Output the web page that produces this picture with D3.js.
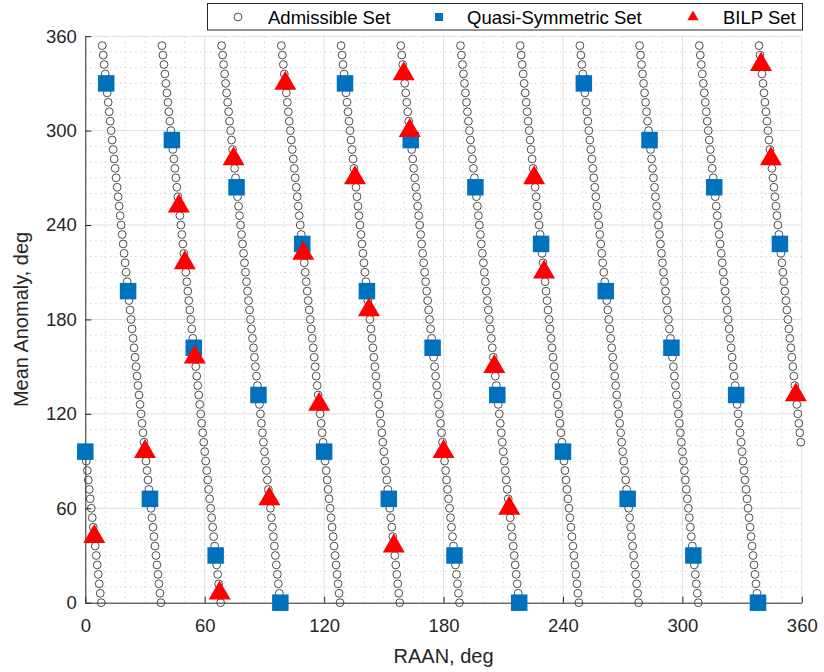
<!DOCTYPE html>
<html>
<head>
<meta charset="utf-8">
<script src="https://cdn.jsdelivr.net/npm/d3@7"></script>
<style>
  html, body { margin: 0; padding: 0; background: #fff; }
  svg { display: block; font-family: "Liberation Sans", Arial, Helvetica, sans-serif; }
</style>
</head>
<body>
<svg id="chart" width="824" height="672"></svg>
<script>
// Mean anomaly slots of the admissible lattice (deg)
const meanAnomalyGrid = [0, 6, 12, 18, 24, 30, 36, 42, 48, 54, 60, 66, 72, 78, 84, 90, 96, 102, 108, 114,
  120, 126, 132, 138, 144, 150, 156, 162, 168, 174, 180, 186, 192, 198, 204, 210, 216, 222, 228, 234,
  240, 246, 252, 258, 264, 270, 276, 282, 288, 294, 300, 306, 312, 318, 324, 330, 336, 342, 348, 354];
// RAAN shift along a strand for each mean anomaly slot (deg)
const raanDrift = [0, -0.5, -1, -1.5, -2, -2.5, -3, -3.5, -4, -4.5, -5, -5.5, -6, -6.5, -7, -7.5, -8, -8.5, -9, -9.5,
  -10, -10.5, -11, -11.5, -12, -12.5, -13, -13.5, -14, -14.5, -15, -15.5, -16, -16.5, -17, -17.5, -18, -18.5, -19, -19.5,
  -20, -20.5, -21, -21.5, -22, -22.5, -23, -23.5, -24, -24.5, -25, -25.5, -26, -26.5, -27, -27.5, -28, -28.5, -29, -29.5];
// RAAN of each strand at zero mean anomaly (deg)
const strandRaan = [8, 38, 68, 98, 128, 158, 188, 218, 248, 278, 308, 338];

// Quasi-symmetric constellation
const qsRaan = [0, 10.5, 21.5, 32.5, 43.5, 54.5, 65.5, 76, 87, 98, 109,
  120, 130.5, 141.5, 152.5, 163.5, 174.5, 185.5, 196, 207, 218, 229,
  240, 250.5, 261.5, 272.5, 283.5, 294.5, 305.5, 316, 327, 338, 349];
const qsMean = [96, 330, 198, 66, 294, 162, 30, 264, 132, 0, 228,
  96, 330, 198, 66, 294, 162, 30, 264, 132, 0, 228,
  96, 330, 198, 66, 294, 162, 30, 264, 132, 0, 228];

// BILP solution
const bilpRaan = [4.5, 30, 47, 50, 55, 67.5, 74.5, 92.5, 100.5, 109.5, 117.5, 135.5,
  142.5, 155, 160, 163, 180, 205.5, 213, 225.5, 230.5, 339.5, 344.5, 357];
const bilpMean = [42, 96, 252, 216, 156, 6, 282, 66, 330, 222, 126, 270,
  186, 36, 336, 300, 96, 150, 60, 270, 210, 342, 282, 132];

const axisTicks = [0, 60, 120, 180, 240, 300, 360];
const minorTicks = d3.range(10, 360, 10).filter(v => v % 60 !== 0);

const svg = d3.select("#chart");
const x = d3.scaleLinear().domain([0, 360]).range([85.3, 801.8]);
const y = d3.scaleLinear().domain([0, 360]).range([602.7, 36.2]);

const ink = "#262626";

// grid
const grid = svg.append("g");
grid.selectAll(".mx").data(minorTicks).join("line")
  .attr("x1", d => x(d)).attr("x2", d => x(d)).attr("y1", y(0)).attr("y2", y(360))
  .attr("stroke", "#c4c4c4").attr("stroke-width", 1).attr("stroke-dasharray", "1,4");
grid.selectAll(".my").data(minorTicks).join("line")
  .attr("y1", d => y(d)).attr("y2", d => y(d)).attr("x1", x(0)).attr("x2", x(360))
  .attr("stroke", "#c4c4c4").attr("stroke-width", 1).attr("stroke-dasharray", "1,4");
grid.selectAll(".Mx").data(axisTicks.slice(1)).join("line")
  .attr("x1", d => x(d)).attr("x2", d => x(d)).attr("y1", y(0)).attr("y2", y(360))
  .attr("stroke", "#dfdfdf").attr("stroke-width", 1);
grid.selectAll(".My").data(axisTicks.slice(1)).join("line")
  .attr("y1", d => y(d)).attr("y2", d => y(d)).attr("x1", x(0)).attr("x2", x(360))
  .attr("stroke", "#dfdfdf").attr("stroke-width", 1);

// axes
const xAxis = d3.axisBottom(x).tickValues(axisTicks).tickSizeInner(-6).tickSizeOuter(0).tickPadding(16.5);
const yAxis = d3.axisLeft(y).tickValues(axisTicks).tickSizeInner(-6).tickSizeOuter(0).tickPadding(8.5);
const gx = svg.append("g").attr("transform", `translate(0,${y(0)})`).call(xAxis);
const gy = svg.append("g").attr("transform", `translate(${x(0)},0)`).call(yAxis);
[gx, gy].forEach(g => {
  g.select(".domain").attr("stroke", ink).attr("stroke-width", 1);
  g.selectAll(".tick line").attr("stroke", ink).attr("stroke-width", 1);
  g.selectAll(".tick text").attr("fill", ink).style("font-size", "18.5px")
    .style("font-family", "'Liberation Sans', Arial, sans-serif");
});

// admissible set
const admissible = [];
strandRaan.forEach(r0 => {
  meanAnomalyGrid.forEach((m, i) => {
    admissible.push({ raan: (r0 + raanDrift[i] + 360) % 360, mean: m });
  });
});
svg.append("g").selectAll("circle").data(admissible).join("circle")
  .attr("cx", d => x(d.raan)).attr("cy", d => y(d.mean)).attr("r", 3.9)
  .attr("fill", "none").attr("stroke", "#3a3a3a").attr("stroke-width", 0.9);

// quasi-symmetric set
const sq = 16.5;
svg.append("g").selectAll("rect").data(qsRaan.map((r, i) => ({ raan: r, mean: qsMean[i] }))).join("rect")
  .attr("x", d => x(d.raan) - sq / 2).attr("y", d => y(d.mean) - sq / 2)
  .attr("width", sq).attr("height", sq).attr("fill", "#0072BD");

// BILP set: triangle inscribed in a circle centred on the point
const triR = 12.7;
const tri = d3.symbol().type({
  draw(ctx) {
    ctx.moveTo(0, -triR);
    ctx.lineTo(triR * Math.cos(Math.PI / 6), triR * 0.5);
    ctx.lineTo(-triR * Math.cos(Math.PI / 6), triR * 0.5);
    ctx.closePath();
  }
});
svg.append("g").selectAll("path").data(bilpRaan.map((r, i) => ({ raan: r, mean: bilpMean[i] }))).join("path")
  .attr("transform", d => `translate(${x(d.raan)},${y(d.mean)})`)
  .attr("d", tri()).attr("fill", "#FF0000");

// axis labels
svg.append("text").attr("x", (x(0) + x(360)) / 2).attr("y", 663)
  .attr("text-anchor", "middle").attr("fill", ink).style("font-size", "20px").text("RAAN, deg");
svg.append("text").attr("transform", `translate(28,${(y(0) + y(360)) / 2}) rotate(-90)`)
  .attr("text-anchor", "middle").attr("fill", ink).style("font-size", "20px").text("Mean Anomaly, deg");

// legend
const leg = svg.append("g");
leg.append("rect").attr("x", 207.5).attr("y", 3.5).attr("width", 595).attr("height", 26.5)
  .attr("fill", "#fff").attr("stroke", ink).attr("stroke-width", 1);
const ly = 17;
leg.append("circle").attr("cx", 238).attr("cy", ly).attr("r", 3.9)
  .attr("fill", "none").attr("stroke", "#3a3a3a").attr("stroke-width", 0.9);
leg.append("rect").attr("x", 439 - 4).attr("y", ly - 4).attr("width", 8).attr("height", 8).attr("fill", "#0072BD");
const triS = d3.symbol().type({
  draw(ctx) {
    const r = 6.5;
    ctx.moveTo(0, -r);
    ctx.lineTo(r * Math.cos(Math.PI / 6), r * 0.5);
    ctx.lineTo(-r * Math.cos(Math.PI / 6), r * 0.5);
    ctx.closePath();
  }
});
leg.append("path").attr("transform", `translate(693,${ly})`).attr("d", triS()).attr("fill", "#FF0000");
[["Admissible Set", 268], ["Quasi-Symmetric Set", 467], ["BILP Set", 723]].forEach(([t, px]) => {
  leg.append("text").attr("x", px).attr("y", ly + 6.5).attr("fill", "#000")
    .style("font-size", "18.5px").text(t);
});
</script>
</body>
</html>
